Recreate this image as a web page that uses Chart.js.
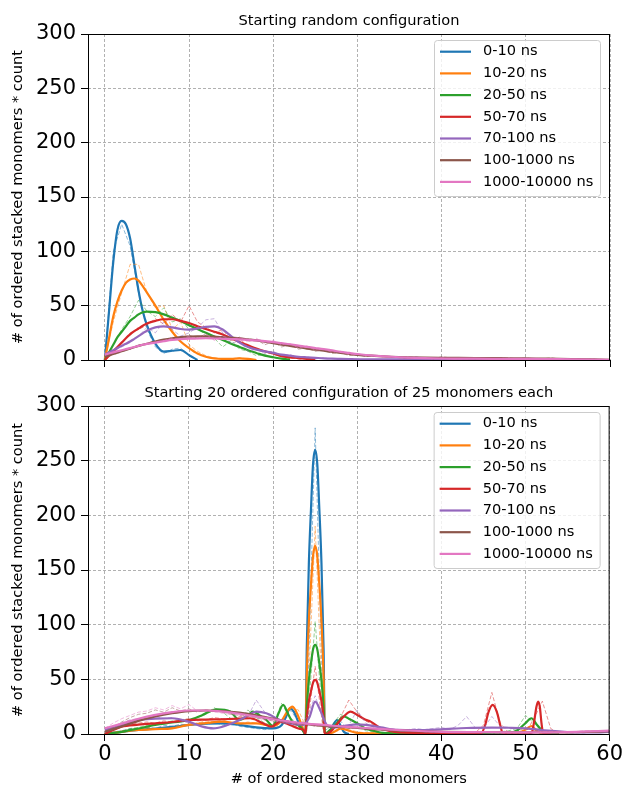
<!DOCTYPE html>
<html><head><meta charset="utf-8">
<script src="https://cdn.jsdelivr.net/npm/chart.js@4/dist/chart.umd.min.js"></script>
<style>
html,body{margin:0;padding:0;background:#fff;}
#wrap{position:relative;width:624px;height:788px;overflow:hidden;}
canvas{position:absolute;left:0;}
</style></head><body>
<div id="wrap">
<canvas id="c1" width="624" height="380" style="top:0px"></canvas>
<canvas id="c2" width="624" height="408" style="top:380px"></canvas>
</div>
<script>
// ---------------- data ----------------
const seriesLabels = ['0-10 ns','10-20 ns','20-50 ns','50-70 ns','70-100 ns','100-1000 ns','1000-10000 ns'];
const xTicks = [0,10,20,30,40,50,60];
const yTicks = [0,50,100,150,200,250,300];
const histX = [0,1,2,3,4,5,6,7,8,9,10,11,12,13,14,15,16,17,18,19,20,21,22,23,24,25,26,27,28,29,30,
  31,32,33,34,35,36,37,38,39,40,41,42,43,44,45,46,47,48,49,50,51,52,53,54,55,56,57,58,59,60];

// Top panel: smoothed curves (shared x grid)
const topX = [0,0.5,1,1.5,2,2.5,3,3.5,4,4.5,5,6,7,8,9,10,11,12,13,14,15,16,17,18,19,20,21,22,23,24,25,26,27,28,29,30,32,34,36,38,40,42,44,46,48,50,52,54,56,58,60];
const topBlue   = [0,45,90,120,128,125,112,88,64,45,32,15,7.7,8.5,9.2,4.5,0];
const topOrange = [0,20,40,54,64,71,74,75,73,68,62,50,37,26,17,11,6,3,1.5,1,1,1.5,1,0];
const topGreen  = [0,7,14,21,26,31,36,39,42,44,44.6,44,42,39,36,32,28.5,25,21.5,18.5,15,12,9,6.5,4,2.5,1.2,0.5];
const topRed    = [0,4,8,12,16,20,23.5,26.5,29,31.5,33.5,36,37.5,37.5,36,34,31,28.5,26,23.5,20,16.5,13.5,10.5,8,6,3.5,2.5,1.8,1,0.5];
const topPurple = [5,7,9,11,13,15,17,19.5,22,24.5,27,30,31,30,28.5,28,29,30.5,31,28,22,16,12,9.5,8,6.5,5,4,3,2.5,2,1.5,1.2,1,0.8,0.6,0.5,0.5,0.5,0.6,0.6,0.5,0.4,0.3];
const topBrown  = [3,4.2,5.5,6.7,8,9.2,10.5,11.7,13,14,15,17,18.7,20,21,21.5,21.8,21.8,21.5,21,20.5,20,19,18,16.8,15.5,14.2,13,11.8,10.5,9.5,8.5,7.5,6.5,5.6,4.8,3.8,3,2.5,2.2,2,1.9,1.8,1.7,1.6,1.5,1.3,1.1,0.8,0.5,0.2];
const topPink   = [5,6,7,8,9,10,11,12,13,14,14.8,16,17.3,18.5,19.2,19.6,19.8,20,19.8,19.5,19.2,19,18.5,18,17.3,16.5,15.5,14.5,13.3,12,11,10,8.8,7.5,6.5,5.5,4,3,2.2,1.7,1.4,1.3,1.2,1.1,1,1,0.9,0.8,0.6,0.4,0.2];

// Top panel: raw histograms (dashed, integer bins)
const topBlueH   = [0,100,125,105,62,28,12,6,10,11,4,0];
const topOrangeH = [0,35,62,88,88,62,48,50,28,35,14,8,4,2,1,1,2,1,0];
const topGreenH  = [0,14,28,40,55,45,40,48,35,38,28,30,22,20,12,18,10,8,4,5,2,1,0];
const topRedH    = [0,6,15,25,28,32,38,33,42,35,50,35,30,25,28,18,20,12,10,8,5,4,2,1,1,0];
const topPurpleH = [4,8,12,16,22,30,25,35,28,22,25,30,37,38,25,15,18,8,10,6,8,4,5,2,3,1,2,1,1,0,1,0,0,0,0,0,2,3,1,2,0];
const topBrownH  = [3,6,9,10,14,15,18,17,21,19,23,20,24,19,22,18,21,17,19,14,17,12,14,10,11,8,9,6,7,4,5,3,4,3,3,2,3,2,2,1,3,2,2,1,2,2,1,2,2,1,2,1,1,2,1,1,1,0,1,0,0];
const topPinkH   = [5,7,9,11,13,15,16,18,20,19,22,19,24,18,22,19,21,17,20,15,18,14,15,11,13,9,10,7,8,5,6,4,4,3,3,2,2,2,2,1,2,1,1,1,1,1,1,1,1,1,1,1,1,1,1,1,0,0,0,0,0];

// Bottom panel: smoothed curves (own x knots per series)
const botBlueX = [0,2,4,6,8,10,12,14,16,18,20,21,21.5,22,22.5,23,23.5,23.85,24,24.25,24.5,24.75,25,25.25,25.5,25.75,26,26.15,26.8,27.2,27.6,28,28.4,29];
const botBlueY = [0,2,3.7,5,6.5,8.3,9.5,9.8,8.3,6,5.2,8,15,23.5,20,11,4,0,78,156,205,247,260,247,205,156,78,0,3,9,12.8,8,2,0];
const botOrangeX = [0,2,4,6,8,10,12,14,16,18,20,21,21.8,22.3,23,23.5,23.85,24,24.25,24.5,24.75,25,25.25,25.5,25.75,26,26.15,26.8,27.5,28,29,30,32,36,40,44,48,49.5,50.2,50.7,51.3,52,53];
const botOrangeY = [0,2,3.7,4.5,5.2,8.3,10,11.3,9.8,9.8,7.3,12,22,25,16,6,0,52,103,136,163,172,163,136,103,52,0,0.6,3,5,3,1,0.5,0.5,0.5,0.5,0.5,2,5,7.3,3,0.5,0];
const botGreenX = [0,2,4,6,8,10,11.5,13.3,14.9,16,17,17.6,18.4,19.2,20,20.6,21.2,21.8,22.4,23,23.5,23.85,24,24.25,24.5,24.75,25,25.25,25.5,25.75,26,26.15,26.8,27.4,28.4,29,30,31,31.6,33,36,40,44,48,49.1,50,50.7,51.4,51.9,52.5,54];
const botGreenY = [0,2,5,8.3,10.5,12.8,17,22.6,20.5,12.8,17,20.5,17,12.8,7.3,18,26.6,18,10,8,3.7,0,24.5,49,64.5,77.5,81.6,77.5,64.5,49,24.5,0,4,8.3,16,14,9.8,5,3.7,1,0.5,0.5,0.5,1,3.7,10,14.4,8,3.7,0.5,0];
const botRedX = [0,2,4,6,8,10,12,14,16,17.3,18.8,19.8,20.8,22,23,23.6,23.85,24,24.25,24.5,24.75,25,25.25,25.5,25.75,26,26.15,26.8,27.5,28.4,29.2,30,31,31.6,32.8,34,35,40,44,44.7,45.2,45.6,46.1,46.6,47,47.3,48,50,50.7,51,51.3,51.5,51.7,51.9,52.1,53];
const botRedY = [0,6.7,8.5,9.8,11,12.8,13.2,13.5,14,14.4,9.8,6.7,11.3,8.3,5,3.7,0,15,30,39,47,49.5,47,39,30,15,0,2,8,16,20.5,17.4,13,11.3,5.2,2.5,1.5,1,1,0.5,8,20,26.6,20,8,0.5,0.5,0.5,0.5,10,25,29.7,25,10,0.5,0];
const botPurpleX = [0,2,4,6,8,10,11.5,12.9,14.5,16,17,18,19.2,20.8,22,23.6,24.3,25,25.7,26.4,27.2,28.5,30,31,32.8,34.8,37,40,43,46,48,50,52.7,55,58,60];
const botPurpleY = [3.7,8,12.8,14,14.4,11.3,7,5.2,8,12.8,17,20.5,19,12.8,9.8,8.3,15,29.6,20,8,6,7.5,8.8,8.3,6,3.7,3.5,4.3,5.5,5.8,5.7,5.2,3,1.8,1.4,2];
const botBrownX = [0,2,4,6,8,10,12,14,16,18,20,22,24,26,28,30,32,34,36,38,40,44,48,52,56,60];
const botBrownY = [2,7,12,16,19,21,21.5,21,19.5,17,14,11,9,7.5,6.5,5.5,4.5,3.5,2.8,2.3,2,1.7,1.5,1.5,1.8,2.5];
const botPinkX = [0,2,4,6,8,10,12,14,16,18,20,22,24,26,28,30,32,34,36,38,40,44,48,52,56,60];
const botPinkY = [5.2,9.5,14,17.5,20,21.5,21.5,20.5,18.5,16,13.5,11.3,9.5,8.3,7,6,5,4,3.2,2.5,2,1.7,1.5,1.5,2,3];

// Bottom panel: raw histograms (dashed, integer bins)
const botBlueH   = [0,2,3,5,4,6,5,8,7,9,8,10,9,11,8,10,7,6,5,4,5,8,22,12,3,280,2,8,12,3,1];
const botOrangeH = [0,1,3,4,4,6,5,4,6,8,9,10,12,11,13,10,9,11,10,8,7,12,24,22,5,190,1,3,5,4,2,1,1,0,0,0,0,0,0,0,0,0,0,0,0,0,0,0,0,2,6,3,0];
const botGreenH  = [0,1,2,5,6,8,9,10,12,11,13,15,18,24,20,14,12,22,15,10,8,28,15,9,3,103,2,8,18,15,8,3,2,1,1,1,0,0,0,0,1,1,0,1,1,1,1,2,3,5,17,10,2,0];
const botRedH    = [0,5,8,9,10,11,10,12,11,13,14,12,13,15,14,13,16,15,12,9,6,12,9,6,4,62,1,3,15,31,20,12,8,4,3,2,1,1,1,1,1,1,1,2,1,8,38,10,1,0,1,14,30,5,0];
const botPurpleH = [3,6,10,13,14,15,16,14,15,12,10,8,6,5,7,9,12,16,31,20,14,10,9,8,15,35,12,6,5,8,22,10,6,4,3,4,4,5,4,5,6,4,8,16,6,5,16,7,6,5,5,4,3,2,2,1,1,1,2,2,2];
const botBrownH  = [2,6,11,15,18,19,22,20,24,21,23,20,22,21,20,18,17,16,15,13,12,10,10,8,9,7,8,6,7,5,6,4,5,3,4,3,3,2,2,2,2,2,2,1,2,1,2,1,1,2,1,1,2,1,2,2,2,2,2,3,3];
const botPinkH   = [5,10,14,17,20,21,24,22,26,23,27,21,22,20,19,18,17,16,15,13,12,11,10,9,9,8,8,7,7,6,6,5,5,4,4,3,3,3,2,2,2,2,2,2,2,2,1,1,1,1,1,1,2,2,2,2,2,3,3,3,3];

// ---------------- styles ----------------
const seriesColors = ['#1f77b4','#ff7f0e','#2ca02c','#d62728','#9467bd','#8c564b','#e377c2'];
const FONT = '"DejaVu Sans", sans-serif';
Chart.defaults.font.family = FONT;
Chart.defaults.color = '#000';

function withAlpha(hex, a) {
  const n = parseInt(hex.slice(1), 16);
  return `rgba(${(n>>16)&255},${(n>>8)&255},${n&255},${a})`;
}
function pts(xs, ys) { return ys.map((y, i) => ({x: xs[i], y: y})); }

function buildDatasets(smoothX, smoothY, histY) {
  const ds = [];
  for (let k = 0; k < 7; k++) {
    ds.push({
      label: seriesLabels[k], inLegend: true,
      data: pts(smoothX[k], smoothY[k]),
      borderColor: seriesColors[k], backgroundColor: seriesColors[k],
      borderWidth: 2.2, pointRadius: 0, cubicInterpolationMode: 'monotone',
      fill: false, order: 20 - 2 * k
    });
    ds.push({
      label: seriesLabels[k] + ' (raw)', inLegend: false,
      data: pts(histX, histY[k]),
      borderColor: withAlpha(seriesColors[k], 0.5),
      borderWidth: 1, borderDash: [4, 2], pointRadius: 0, tension: 0,
      fill: false, order: 21 - 2 * k
    });
  }
  return ds;
}

const panelDecor = {
  id: 'panelDecor',
  afterDraw(chart, args, opts) {
    const {ctx, chartArea: a} = chart;
    ctx.save();
    // axes frame
    ctx.strokeStyle = '#000'; ctx.lineWidth = 1; ctx.setLineDash([]);
    ctx.strokeRect(a.left + 0.5, a.top + 0.5, a.right - a.left - 1, a.bottom - a.top);
    // panel title
    ctx.fillStyle = '#000';
    ctx.font = '14.6px ' + FONT;
    ctx.textAlign = 'center'; ctx.textBaseline = 'alphabetic';
    ctx.fillText(opts.title, (a.left + a.right) / 2, a.top - 9.5);
    // legend
    const items = chart.data.datasets.filter(d => d.inLegend);
    const bw = 166, bh = 156;
    const bx = a.right - 10 - bw, by = a.top + 6;
    ctx.beginPath();
    if (ctx.roundRect) ctx.roundRect(bx + 0.5, by + 0.5, bw, bh, 3); else ctx.rect(bx + 0.5, by + 0.5, bw, bh);
    ctx.fillStyle = 'rgba(255,255,255,0.8)'; ctx.fill();
    ctx.strokeStyle = '#cccccc'; ctx.lineWidth = 1; ctx.stroke();
    ctx.textAlign = 'left'; ctx.textBaseline = 'middle';
    items.forEach((d, i) => {
      const y = by + 11.7 + i * 21.7;
      ctx.strokeStyle = d.borderColor; ctx.lineWidth = 2.2;
      ctx.beginPath(); ctx.moveTo(bx + 6, y); ctx.lineTo(bx + 37, y); ctx.stroke();
      ctx.fillStyle = '#000';
      ctx.fillText(d.label, bx + 49, y);
    });
    ctx.restore();
  }
};

function makeChart(id, datasets, title, topPad, showXLabels, xAxisHeight) {
  const gridCommon = {
    color: 'rgba(140,140,140,0.85)', lineWidth: 0.8,
    tickColor: '#000', tickWidth: 1, tickLength: 7, tickBorderDash: [], drawTicks: true
  };
  return new Chart(document.getElementById(id), {
    type: 'line',
    data: {datasets},
    options: {
      responsive: false, animation: false, devicePixelRatio: 1,
      layout: {padding: {top: topPad, right: 14, left: 0, bottom: 0}},
      plugins: {legend: {display: false}, tooltip: {enabled: false}, panelDecor: {title}},
      scales: {
        x: {
          type: 'linear', min: -2, max: 60, bounds: 'data',
          afterBuildTicks: s => { s.ticks = xTicks.map(v => ({value: v})); },
          afterFit: s => { s.height = xAxisHeight; },
          grid: gridCommon,
          border: {display: false, dash: [3, 2]},
          ticks: {display: showXLabels, font: {size: 21}, padding: 1, maxRotation: 0, autoSkip: false},
          title: {display: showXLabels, text: '# of ordered stacked monomers', font: {size: 14.6}, padding: {top: 0, bottom: 0}}
        },
        y: {
          type: 'linear', min: 0, max: 300, bounds: 'data',
          afterBuildTicks: s => { s.ticks = yTicks.map(v => ({value: v})); },
          afterFit: s => { s.width = 88; },
          grid: gridCommon,
          border: {display: false, dash: [3, 2]},
          ticks: {font: {size: 21}, padding: 5, autoSkip: false},
          title: {display: true, text: '# of ordered stacked monomers * count', font: {size: 14.6}, padding: {top: 9, bottom: 0}}
        }
      }
    },
    plugins: [panelDecor]
  });
}

makeChart('c1',
  buildDatasets(
    [topX, topX, topX, topX, topX, topX, topX],
    [topBlue, topOrange, topGreen, topRed, topPurple, topBrown, topPink],
    [topBlueH, topOrangeH, topGreenH, topRedH, topPurpleH, topBrownH, topPinkH]),
  'Starting random configuration', 34, false, 20);

makeChart('c2',
  buildDatasets(
    [botBlueX, botOrangeX, botGreenX, botRedX, botPurpleX, botBrownX, botPinkX],
    [botBlueY, botOrangeY, botGreenY, botRedY, botPurpleY, botBrownY, botPinkY],
    [botBlueH, botOrangeH, botGreenH, botRedH, botPurpleH, botBrownH, botPinkH]),
  'Starting 20 ordered configuration of 25 monomers each', 26, true, 54);
</script>
</body></html>
